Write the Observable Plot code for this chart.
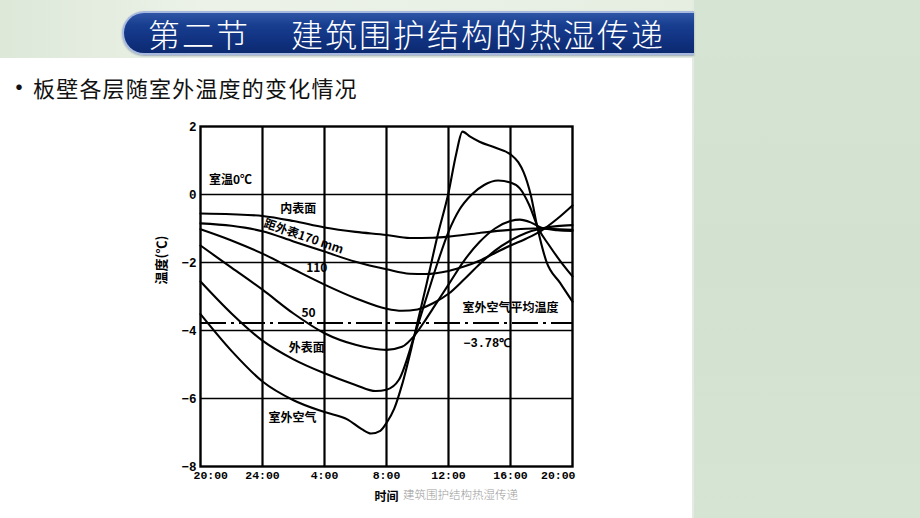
<!DOCTYPE html>
<html><head><meta charset="utf-8">
<script src="https://cdn.jsdelivr.net/npm/d3@7"></script>
<script src="https://cdn.jsdelivr.net/npm/@observablehq/plot@0.6"></script>
<style>
html,body{margin:0;padding:0;width:920px;height:518px;overflow:hidden;background:#fff;font-family:"Noto Sans CJK SC","Noto Sans",sans-serif;}
#slide{position:relative;width:920px;height:518px;background:#fff;overflow:hidden;}
#topband{position:absolute;left:0;top:0;width:692px;height:58px;background:linear-gradient(90deg,#dde8d9 0%,#ecf2e8 30%,#e6eee2 100%);}
#side{position:absolute;left:692px;top:0;width:228px;height:518px;background:linear-gradient(180deg,#d6e4d3,#d3e2d0 50%,#d6e4d3);border-left:2px solid #e3ece0;box-sizing:border-box;}
#banner{position:absolute;left:122px;top:11px;width:572px;height:44px;border-radius:24px 0 0 24px;background:linear-gradient(180deg,#2f55a6 0%,#183e90 30%,#10317f 70%,#0c2a70 100%);border:2px solid #a7b9de;border-right:none;box-sizing:border-box;box-shadow:0 1px 2px rgba(40,60,100,0.4);}
.t{position:absolute;top:11px;height:44px;line-height:44px;color:#fff;font-size:32px;font-weight:300;letter-spacing:2px;white-space:nowrap;}
#bullet{position:absolute;left:6px;top:71px;line-height:30px;font-size:26px;color:#111;}
#sub{position:absolute;left:33px;top:72px;line-height:30px;font-size:22px;letter-spacing:1.2px;color:#111;white-space:nowrap;}
#chart{position:absolute;left:130px;top:110px;}
#footer{position:absolute;left:403px;top:486px;line-height:16px;font-size:11.5px;color:#9a9a9a;font-weight:300;white-space:nowrap;}
</style></head>
<body><div id="slide">
<div id="topband"></div>
<div id="side"></div>
<div id="banner"></div>
<div class="t" style="left:148px">第二节</div>
<div class="t" style="left:291px">建筑围护结构的热湿传递</div>
<div id="bullet">•</div>
<div id="sub">板壁各层随室外温度的变化情况</div>
<div id="chart"></div>
<div id="footer">建筑围护结构热湿传递</div>
</div>
<script>
// hours after 20:00, temperature (°C)
const tickHours = [0, 4, 8, 12, 16, 20, 24];
const timeLabels = ["20:00", "24:00", "4:00", "8:00", "12:00", "16:00", "20:00"];
const tempTicks = [2, 0, -2, -4, -6, -8];
const gridTemps = [0, -2, -4, -6];
const meanOutdoor = -3.78;

const innerSurface = [[0,-0.56],[2,-0.58],[4,-0.63],[6,-0.78],[8,-0.97],[10,-1.1],[12,-1.19],[13.5,-1.28],[15,-1.27],[16,-1.24],[18,-1.13],[20,-1.04],[21.5,-1.0],[22.5,-1.01],[24,-1.04]];
const depth170 = [[0,-0.85],[2,-0.92],[4,-1.08],[6,-1.38],[8,-1.68],[10,-1.98],[12,-2.2],[13.5,-2.33],[14.5,-2.34],[16,-2.25],[17,-2.12],[18,-1.95],[19,-1.72],[20,-1.5],[21,-1.3],[22,-1.06],[23,-0.72],[24,-0.32]];
const depth110 = [[0,-1.02],[2,-1.35],[4,-1.74],[6,-2.2],[8,-2.65],[10,-3.05],[12,-3.36],[13,-3.42],[14,-3.38],[15,-3.2],[16,-2.92],[17,-2.5],[18,-2.05],[19,-1.65],[20,-1.35],[21,-1.13],[22,-1.0],[23,-0.93],[24,-0.9]];
const depth50 = [[0,-1.5],[2,-2.15],[4,-2.8],[6,-3.5],[8,-4.08],[10,-4.42],[11,-4.52],[12,-4.57],[13,-4.48],[13.8,-4.15],[14.5,-3.7],[15,-3.35],[16,-2.65],[17,-1.95],[18,-1.4],[19,-1.0],[20,-0.78],[20.6,-0.74],[21.3,-0.82],[22,-0.98],[23,-1.05],[24,-1.07]];
const outerSurface = [[0,-2.56],[2,-3.5],[4,-4.3],[6,-4.85],[8,-5.26],[10,-5.6],[11.3,-5.78],[12,-5.74],[12.8,-5.45],[13.8,-4.15],[14.6,-3.0],[15.3,-2.0],[16,-1.1],[16.7,-0.45],[17.5,0.0],[18.3,0.28],[19.2,0.41],[20,0.35],[20.6,0.18],[21.2,-0.3],[21.8,-1.0],[22.5,-1.5],[23.2,-1.95],[24,-2.41]];
const outdoorAir = [[0,-3.52],[2,-4.6],[4,-5.5],[6,-6.05],[8,-6.4],[9.5,-6.62],[10.4,-6.9],[11,-7.03],[11.6,-6.95],[12,-6.72],[12.5,-6.3],[13,-5.6],[13.8,-4.15],[14.6,-2.6],[15.3,-1.2],[16,0.05],[16.5,1.2],[16.9,1.85],[17.4,1.7],[18,1.55],[19,1.38],[20,1.18],[20.5,0.95],[20.85,0.65],[21.3,0.0],[21.75,-1.0],[22.3,-1.95],[23.2,-2.6],[24,-3.15]];

const annotations = [
  {h: 1.94, t: 0.41, label: "室温0℃", r: 0},
  {h: 6.3, t: -0.44, label: "内表面", r: 0},
  {h: 6.65, t: -1.24, label: "距外表170 mm", r: 19},
  {h: 7.5, t: -2.18, label: "110", r: 0},
  {h: 6.97, t: -3.5, label: "50", r: 0},
  {h: 6.85, t: -4.53, label: "外表面", r: 0},
  {h: 5.94, t: -6.59, label: "室外空气", r: 0},
  {h: 20.0, t: -3.35, label: "室外空气平均温度", r: 0}
];
const meanLabel = [{h: 18.5, t: -4.38, label: "−3.78℃"}];

const series = [innerSurface, depth170, depth110, depth50, outerSurface, outdoorAir];
const xTicks = tickHours.map((h, i) => ({h, label: timeLabels[i], i}));
const last = xTicks.length - 1;
const fmt = d => d < 0 ? "−" + (-d) : String(d);
const cjk = "'Noto Sans CJK SC', sans-serif";
const mono = "'Liberation Mono', 'DejaVu Sans Mono', monospace";

const chart = Plot.plot({
  width: 470, height: 405,
  marginLeft: 70, marginRight: 28, marginTop: 16, marginBottom: 49,
  x: {domain: [0, 24], axis: null},
  y: {domain: [-8, 2], axis: null},
  style: {background: "transparent", fontFamily: cjk, color: "#000"},
  marks: [
    Plot.ruleY(gridTemps, {stroke: "#000", strokeWidth: 1.3}),
    Plot.ruleX(tickHours.slice(1, -1), {stroke: "#000", strokeWidth: 2.2}),
    Plot.ruleY([meanOutdoor], {stroke: "#000", strokeWidth: 2, strokeDasharray: "26,5,3,5"}),
    Plot.frame({stroke: "#000", strokeWidth: 2.4}),
    ...series.map(s => Plot.line(s, {x: d => d[0], y: d => d[1], curve: "monotone-x", stroke: "#000", strokeWidth: 2.1})),
    Plot.text(tempTicks, {frameAnchor: "left", y: d => d, text: fmt, textAnchor: "end", dx: -4, fontSize: 12.5, fontWeight: "bold", fontFamily: mono, fill: "#000"}),
    Plot.text(xTicks.filter(d => d.i > 0 && d.i < last), {x: "h", frameAnchor: "bottom", text: "label", dy: 12, fontSize: 11.5, fontWeight: "bold", fontFamily: mono, fill: "#000"}),
    Plot.text(xTicks.filter(d => d.i === 0), {x: "h", frameAnchor: "bottom", text: "label", dy: 12, dx: -7, textAnchor: "start", fontSize: 11.5, fontWeight: "bold", fontFamily: mono, fill: "#000"}),
    Plot.text(xTicks.filter(d => d.i === last), {x: "h", frameAnchor: "bottom", text: "label", dy: 12, dx: 3, textAnchor: "end", fontSize: 11.5, fontWeight: "bold", fontFamily: mono, fill: "#000"}),
    Plot.text(annotations, {x: "h", y: "t", text: "label", rotate: "r", fontSize: 12, fontWeight: "bold", fontFamily: cjk, fill: "#000"}),
    Plot.text(meanLabel, {x: "h", y: "t", text: "label", fontSize: 12, fontWeight: "bold", fontFamily: mono, fill: "#000"}),
    Plot.text(["温度(℃)"], {frameAnchor: "left", rotate: -90, dx: -39, dy: -12, fontSize: 13, fontWeight: "bold", fontFamily: cjk, fill: "#000"}),
    Plot.text(["时间"], {frameAnchor: "bottom", dy: 34, fontSize: 12, fontWeight: "bold", fontFamily: cjk, fill: "#000"})
  ]
});
document.getElementById("chart").appendChild(chart);
</script>
</body></html>
